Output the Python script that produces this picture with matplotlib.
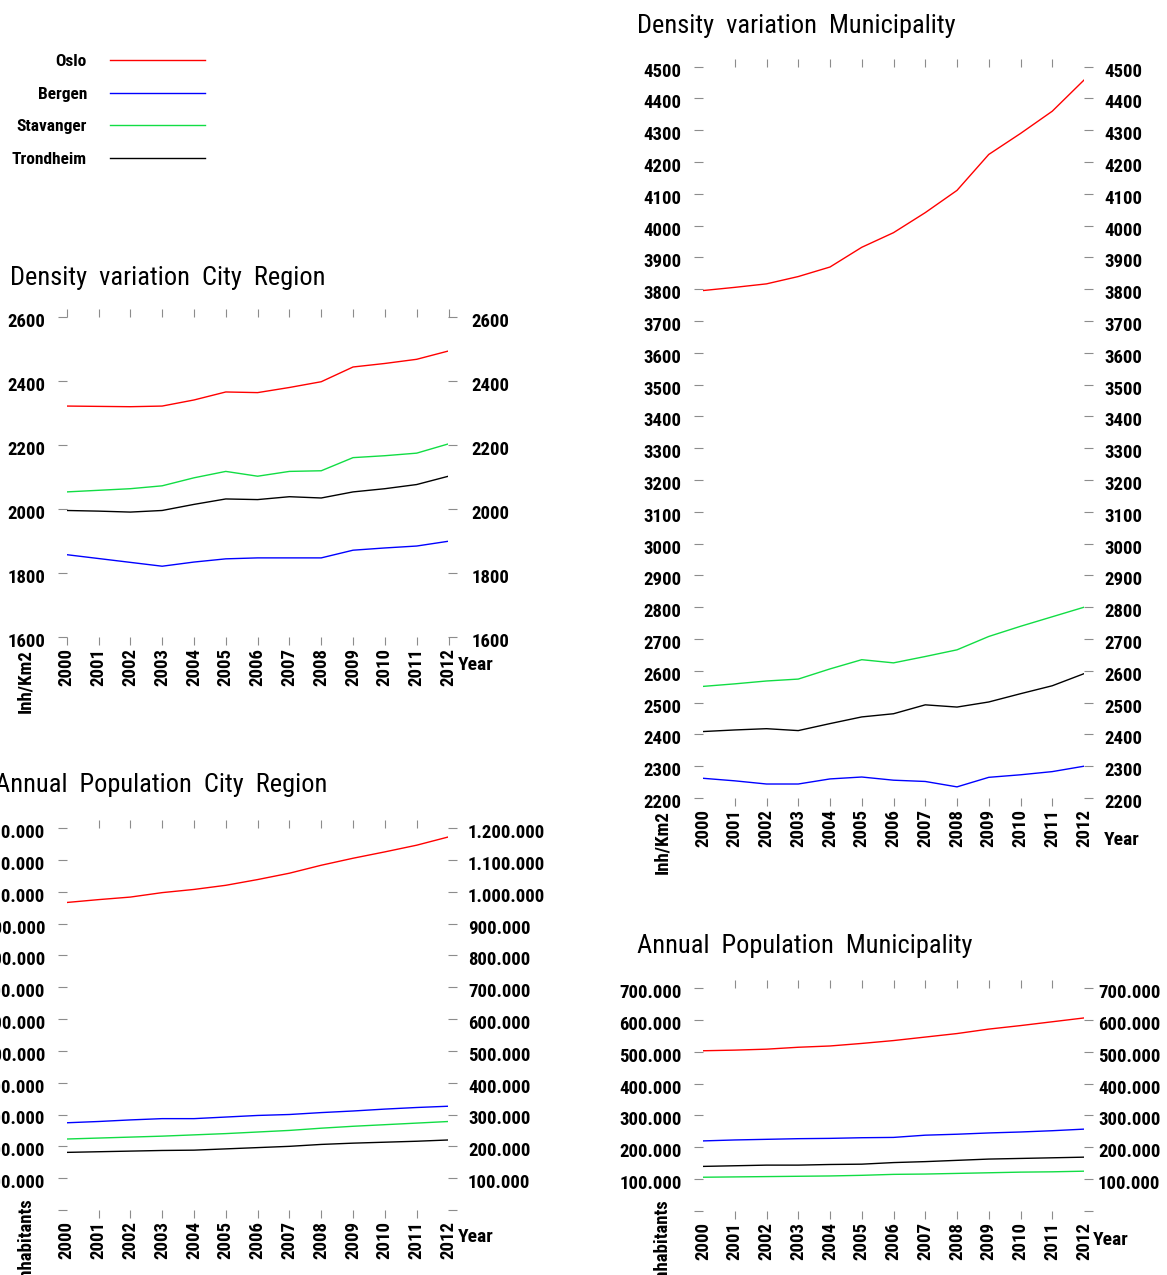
import numpy as np
import matplotlib.pyplot as plt
from matplotlib.ticker import FixedLocator, FuncFormatter
from matplotlib.transforms import ScaledTranslation

plt.rcParams['font.family'] = ['Roboto Condensed', 'Roboto', 'DejaVu Sans']
plt.rcParams['font.stretch'] = 'condensed'

years = np.arange(2000, 2013)
cities = ["Oslo", "Bergen", "Stavanger", "Trondheim"]
colors = ["#ff0000", "#0000ff", "#11dd44", "#000000"]

# density, city region (inh/km2)
dens_reg_oslo = [2321, 2320, 2319, 2321, 2340, 2365, 2363, 2379, 2397, 2443, 2454, 2467, 2493]
dens_reg_bergen = [1857, 1845, 1833, 1821, 1834, 1844, 1847, 1847, 1847, 1871, 1878, 1884, 1899]
dens_reg_stavanger = [2053, 2058, 2063, 2072, 2097, 2117, 2102, 2117, 2119, 2160, 2166, 2174, 2203]
dens_reg_trondheim = [1995, 1993, 1990, 1995, 2014, 2031, 2029, 2038, 2034, 2053, 2063, 2076, 2102]

# density, municipality (inh/km2)
dens_mun_oslo = [3796, 3806, 3817, 3840, 3870, 3932, 3978, 4041, 4111, 4224, 4290, 4360, 4458]
dens_mun_bergen = [2262, 2254, 2244, 2244, 2260, 2266, 2256, 2252, 2235, 2265, 2273, 2283, 2300]
dens_mun_stavanger = [2551, 2559, 2568, 2574, 2606, 2635, 2625, 2645, 2666, 2708, 2740, 2770, 2800]
dens_mun_trondheim = [2409, 2414, 2418, 2412, 2434, 2455, 2465, 2493, 2486, 2502, 2528, 2553, 2591]

# population, city region
pop_reg_oslo = [966e3, 975e3, 983e3, 997e3, 1007e3, 1020e3, 1038e3, 1058e3, 1083e3, 1105e3, 1125e3, 1146e3, 1172e3]
pop_reg_bergen = [274e3, 278e3, 283e3, 287e3, 287e3, 292e3, 297e3, 300e3, 306e3, 311e3, 317e3, 322e3, 326e3]
pop_reg_stavanger = [223e3, 226e3, 229e3, 232e3, 236e3, 240e3, 245e3, 250e3, 257e3, 263e3, 268e3, 273e3, 278e3]
pop_reg_trondheim = [181e3, 183e3, 185e3, 187e3, 188e3, 192e3, 196e3, 200e3, 206e3, 210e3, 213e3, 216e3, 220e3]

# population, municipality
pop_mun_oslo = [503e3, 505e3, 508e3, 514e3, 518e3, 526e3, 535e3, 546e3, 557e3, 571e3, 582e3, 594e3, 606e3]
pop_mun_bergen = [220e3, 223e3, 225e3, 227e3, 228e3, 230e3, 231e3, 238e3, 241e3, 245e3, 248e3, 252e3, 257e3]
pop_mun_stavanger = [106e3, 107e3, 108e3, 109e3, 110e3, 112e3, 115e3, 116e3, 118e3, 120e3, 122e3, 123e3, 125e3]
pop_mun_trondheim = [140e3, 142e3, 144e3, 144e3, 146e3, 147e3, 152e3, 155e3, 159e3, 163e3, 165e3, 167e3, 169e3]

W, H = 1167, 1275
grey = "#8c8c8c"
fig = plt.figure(figsize=(W / 100, H / 100), dpi=100)
shift_down = ScaledTranslation(0, -3 / 100, fig.dpi_scale_trans)


def add_panel(x0, x1, ytop, ybot):
    return fig.add_axes([x0 / W, 1 - ybot / H, (x1 - x0) / W, (ybot - ytop) / H])


def dotted(v, pos):
    if v == 0:
        return ""
    return f"{v:,.0f}".replace(",", ".")


def setup(ax, ylo, yhi, ystep, fmt, end_ticks, rpad):
    ax.set_xlim(2000, 2012)
    ax.set_ylim(ylo, yhi)
    for s in ax.spines.values():
        s.set_visible(False)
    ax.yaxis.set_major_locator(FixedLocator(np.arange(ylo, yhi + ystep, ystep)))
    ax.yaxis.set_major_formatter(FuncFormatter(fmt))
    ax.tick_params(axis='y', left=True, right=True, labelleft=True, labelright=True,
                   direction='out', length=6.5, width=0.8, color=grey, pad=9,
                   labelsize=13.5)
    ax.xaxis.set_major_locator(FixedLocator(years))
    ax.xaxis.set_major_formatter(FuncFormatter(lambda v, p: str(int(v))))
    ax.tick_params(axis='x', top=True, bottom=True, direction='out', length=6,
                   width=0.8, color=grey, pad=2, labelrotation=90, labelsize=13.5)
    # right-hand labels: distance from the axis differs per panel
    for t in ax.yaxis.get_major_ticks():
        t.label2.set_transform(ax.get_yaxis_text2_transform(rpad)[0] + shift_down)
        t.label1.set_transform(t.label1.get_transform() + shift_down)
        t.label1.set_fontweight('bold')
        t.label2.set_fontweight('bold')
    for lab in ax.get_xticklabels():
        lab.set_fontweight('bold')
    if not end_ticks:
        ticks = ax.xaxis.get_major_ticks()
        for t in (ticks[0], ticks[-1]):
            t.tick1line.set_visible(False)
            t.tick2line.set_visible(False)


def texts(x0, x1, ybot, title, tx, ty, ylabel, yl_dy, yr_dx, yr_dy):
    fig.text(tx / W, 1 - ty / H, title, fontsize=19, ha='left', va='center')
    fig.text((x0 - 41) / W, 1 - (ybot + yl_dy) / H, ylabel, rotation=90, fontsize=13.5,
             fontweight='bold', ha='center', va='center')
    fig.text((x1 + yr_dx) / W, 1 - (ybot + yr_dy) / H, "Year", fontsize=14,
             fontweight='bold', ha='left', va='center')


def draw(ax, series):
    lines = []
    for vals, c in zip(series, colors):
        ln, = ax.plot(years, vals, color=c, lw=1.0)
        lines.append(ln)
    return lines


# Density variation City Region
axA = add_panel(66.7, 448.5, 316.7, 637)
setup(axA, 1600, 2600, 200, lambda v, p: str(int(v)), True, rpad=16.5)
lines = draw(axA, [dens_reg_oslo, dens_reg_bergen, dens_reg_stavanger, dens_reg_trondheim])
texts(66.7, 448.5, 637, "Density  variation  City  Region", 10, 278, "Inh/Km2", 44, 9, 28)

# Annual Population City Region
axB = add_panel(66.7, 448.5, 828, 1210)
setup(axB, 0, 1200000, 100000, dotted, False, rpad=14)
draw(axB, [pop_reg_oslo, pop_reg_bergen, pop_reg_stavanger, pop_reg_trondheim])
texts(66.7, 448.5, 1210, "Annual  Population  City  Region", -5, 785, "Inhabitants", 30, 9, 27)

# Density variation Municipality
axC = add_panel(703, 1084, 66.7, 798)
setup(axC, 2200, 4500, 100, lambda v, p: str(int(v)), False, rpad=15)
draw(axC, [dens_mun_oslo, dens_mun_bergen, dens_mun_stavanger, dens_mun_trondheim])
texts(703, 1084, 798, "Density  variation  Municipality", 637, 26, "Inh/Km2", 44, 20, 42)

# Annual Population Municipality
axD = add_panel(703, 1084, 988, 1211)
setup(axD, 0, 700000, 100000, dotted, False, rpad=10)
draw(axD, [pop_mun_oslo, pop_mun_bergen, pop_mun_stavanger, pop_mun_trondheim])
texts(703, 1084, 1211, "Annual  Population  Municipality", 637, 946, "Inhabitants", 30, 9, 29)

fig.legend(lines, cities, loc='upper right', bbox_to_anchor=(205 / W, 1 - 54 / H),
           frameon=False, markerfirst=False, handlelength=5.5, handletextpad=1.3,
           labelspacing=1.0, borderpad=0, borderaxespad=0,
           prop={'size': 12.5, 'weight': 'bold'})

fig.savefig("out.png", dpi=100)
